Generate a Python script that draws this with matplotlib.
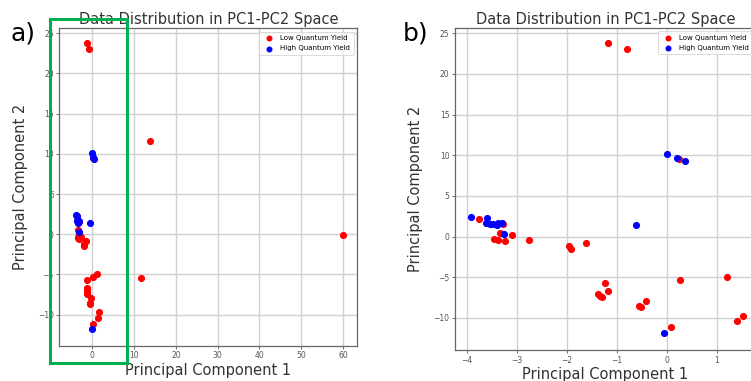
import matplotlib
matplotlib.use("Agg")
import matplotlib.pyplot as plt
from matplotlib.patches import Rectangle

# Low quantum yield (red) points: PC1, PC2
low_pc1 = [-1.17, -0.80, 0.24, -3.76, -3.27, -3.33, -3.45, -3.37, -3.23, -3.10, -2.75,
           -1.95, -1.92, -1.61, -1.23, -1.37, -1.33, -1.30, -1.18, -0.55, -0.52, -0.41,
           0.26, 0.08, 1.21, 1.40, 1.52, 13.8, 11.6, 60.0]
low_pc2 = [23.85, 23.07, 9.50, 2.13, 1.56, 0.49, -0.33, -0.41, -0.57, 0.20, -0.37,
           -1.19, -1.52, -0.78, -5.74, -7.05, -7.30, -7.46, -6.72, -8.52, -8.69, -7.87,
           -5.33, -11.10, -5.00, -10.40, -9.70, 11.6, -5.4, -0.1]
# High quantum yield (blue) points
high_pc1 = [-3.92, -3.60, -3.61, -3.53, -3.47, -3.40, -3.37, -3.30, -3.25, -0.61, -0.05,
            0.00, 0.21, 0.37]
high_pc2 = [2.38, 2.25, 1.64, 1.52, 1.52, 1.43, 1.64, 1.64, 0.33, 1.43, -11.80,
            10.16, 9.63, 9.34]

title = "Data Distribution in PC1-PC2 Space"
xlabel = "Principal Component 1"
ylabel = "Principal Component 2"
labels = ["Low Quantum Yield", "High Quantum Yield"]
panel_tags = ["a)", "b)"]

W, H = 751, 381
fig = plt.figure(figsize=(W / 100, H / 100), dpi=100)

def px_rect(x0, x1, ytop, ybot):
    return [x0 / W, 1 - ybot / H, (x1 - x0) / W, (ybot - ytop) / H]

ax1 = fig.add_axes(px_rect(59.3, 357.3, 28.3, 345.7))
ax2 = fig.add_axes(px_rect(455, 756, 27.7, 350))

for ax, xlim, ylim, xticks in [
    (ax1, (-7.9, 63.4), (-13.86, 25.62), [0, 10, 20, 30, 40, 50, 60]),
    (ax2, (-4.23, 1.78), (-13.94, 25.69), [-4, -3, -2, -1, 0, 1]),
]:
    ax.scatter(low_pc1, low_pc2, s=17, color="red", label=labels[0], zorder=3)
    ax.scatter(high_pc1, high_pc2, s=17, color="blue", label=labels[1], zorder=3)
    ax.set_xlim(*xlim)
    ax.set_ylim(*ylim)
    ax.set_xticks(xticks)
    ax.set_yticks([-10, -5, 0, 5, 10, 15, 20, 25])
    ax.grid(True, color="#d0d0d0", linewidth=1.0)
    ax.set_axisbelow(True)
    ax.tick_params(labelsize=5.5, colors="#555555", length=2, width=0.6, pad=2)
    for sp in ax.spines.values():
        sp.set_color("#666666")
        sp.set_linewidth(0.9)
    ax.set_title(title, fontsize=10.5, color="#333333", pad=3)
    ax.set_xlabel(xlabel, fontsize=10.5, color="#333333", labelpad=2)
    ax.set_ylabel(ylabel, fontsize=10.5, color="#333333")
    ax.yaxis.set_label_coords(-0.105, 0.5)
    leg = ax.legend(loc="upper right", fontsize=5, frameon=True, markerscale=0.8,
                    handletextpad=0.6, borderpad=0.5, labelspacing=0.6)
    leg.get_frame().set_edgecolor("#cccccc")
    leg.get_frame().set_linewidth(0.6)

fig.text(10 / W, 1 - 34 / H, panel_tags[0], fontsize=18, va="center", ha="left")
fig.text(403 / W, 1 - 33 / H, panel_tags[1], fontsize=18, va="center", ha="left")

rect = Rectangle((50 / W, 1 - 363 / H), (126.7 - 50) / W, (363 - 19) / H,
                 transform=fig.transFigure, fill=False, edgecolor="#00B050",
                 linewidth=2.2, zorder=10)
fig.patches.append(rect)

fig.savefig("out.png", dpi=100)
